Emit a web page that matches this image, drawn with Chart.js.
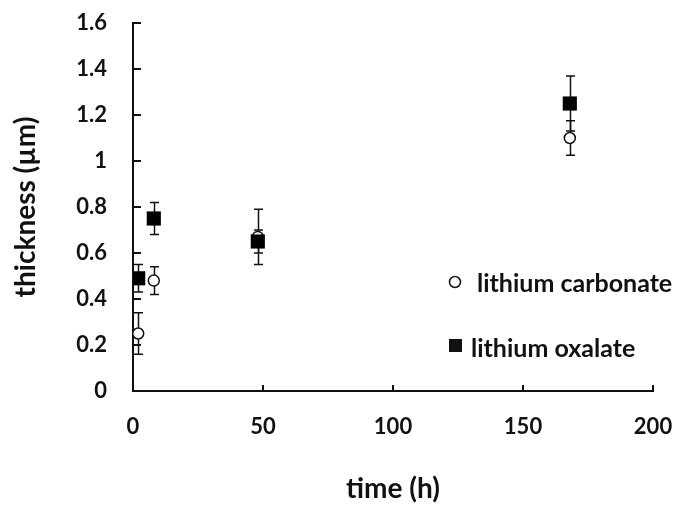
<!DOCTYPE html>
<html>
<head>
<meta charset="utf-8">
<script src="https://cdn.jsdelivr.net/npm/chart.js@4.4.1/dist/chart.umd.min.js"></script>
<style>
  html, body { margin: 0; padding: 0; background: #ffffff; }
  #wrap { width: 678px; height: 506px; }
</style>
</head>
<body>
<div id="wrap"><canvas id="c" width="678" height="506"></canvas></div>
<script>
// Sampling times (h) and measured layer thickness (µm) with error bar half-widths
const hours = [2, 8, 48, 168];
const carbonate = [0.25, 0.48, 0.67, 1.10];
const carbonateErr = [0.09, 0.06, 0.12, 0.075];
const oxalate = [0.49, 0.75, 0.65, 1.25];
const oxalateErr = [0.06, 0.07, 0.05, 0.12];

const seriesNames = ['lithium carbonate', 'lithium oxalate'];

// Axis ticks
const xTicks = [0, 50, 100, 150, 200];
const xTickLabels = ['0', '50', '100', '150', '200'];
const yTicks = [0, 0.2, 0.4, 0.6, 0.8, 1.0, 1.2, 1.4, 1.6];
const yTickLabels = ['0', '0.2', '0.4', '0.6', '0.8', '1', '1.2', '1.4', '1.6'];

const FONT = 'Lato, "Open Sans", sans-serif';
const INK = '#111111';

const toPoints = (xs, ys) => xs.map((x, i) => ({ x: x, y: ys[i] }));

// Vertical error bars with caps, drawn beneath the markers
const errorBars = {
  id: 'errorBars',
  beforeDatasetsDraw(chart) {
    const { ctx, scales: { x, y } } = chart;
    ctx.save();
    ctx.strokeStyle = INK;
    ctx.lineWidth = 1.5;
    chart.data.datasets.forEach(ds => {
      ds.data.forEach((pt, i) => {
        const e = ds.errors[i];
        const px = Math.round(x.getPixelForValue(pt.x)) + 0.5;
        const top = y.getPixelForValue(pt.y + e);
        const bot = y.getPixelForValue(pt.y - e);
        ctx.beginPath();
        ctx.moveTo(px, top); ctx.lineTo(px, bot);
        ctx.moveTo(px - 4.5, top); ctx.lineTo(px + 4.5, top);
        ctx.moveTo(px - 4.5, bot); ctx.lineTo(px + 4.5, bot);
        ctx.stroke();
      });
    });
    ctx.restore();
  }
};

// Tick marks pointing into the plot area
const innerTicks = {
  id: 'innerTicks',
  beforeDatasetsDraw(chart) {
    const { ctx, chartArea, scales: { x, y } } = chart;
    ctx.save();
    ctx.strokeStyle = INK;
    ctx.lineWidth = 2;
    ctx.beginPath();
    y.ticks.forEach(t => {
      const py = Math.round(y.getPixelForValue(t.value));
      ctx.moveTo(chartArea.left, py);
      ctx.lineTo(chartArea.left + 8, py);
    });
    x.ticks.forEach(t => {
      const px = Math.round(x.getPixelForValue(t.value));
      ctx.moveTo(px, chartArea.bottom);
      ctx.lineTo(px, chartArea.bottom - 6);
    });
    ctx.stroke();
    ctx.restore();
  }
};

// Legend placed inside the plot, lower right
const insetLegend = {
  id: 'insetLegend',
  afterDraw(chart) {
    const { ctx } = chart;
    const ds = chart.data.datasets;
    ctx.save();
    ctx.font = 'bold 25px ' + FONT;
    ctx.textBaseline = 'alphabetic';
    // open circle entry
    ctx.beginPath();
    ctx.arc(455, 282, 5.5, 0, Math.PI * 2);
    ctx.fillStyle = '#ffffff';
    ctx.fill();
    ctx.lineWidth = 1.5;
    ctx.strokeStyle = INK;
    ctx.stroke();
    ctx.fillStyle = INK;
    ctx.fillText(ds[1].label, 477, 292);
    // filled square entry
    ctx.fillRect(449, 339, 13, 13);
    ctx.fillText(ds[0].label, 471, 357);
    ctx.restore();
  }
};

new Chart(document.getElementById('c'), {
  type: 'scatter',
  data: {
    datasets: [
      {
        label: seriesNames[1],
        data: toPoints(hours, oxalate),
        errors: oxalateErr,
        pointStyle: 'rect',
        pointRadius: 10,
        pointHoverRadius: 10,
        backgroundColor: '#000000',
        borderColor: '#000000',
        borderWidth: 0,
        order: 0
      },
      {
        label: seriesNames[0],
        data: toPoints(hours, carbonate),
        errors: carbonateErr,
        pointStyle: 'circle',
        pointRadius: 5.5,
        pointHoverRadius: 5.5,
        backgroundColor: '#ffffff',
        borderColor: INK,
        borderWidth: 1.5,
        order: 1
      }
    ]
  },
  options: {
    responsive: false,
    animation: false,
    devicePixelRatio: 1,
    layout: { padding: { top: 23, right: 25, left: 0, bottom: 0 } },
    plugins: {
      legend: { display: false },
      tooltip: { enabled: false }
    },
    scales: {
      x: {
        type: 'linear',
        min: 0,
        max: 200,
        afterBuildTicks: s => { s.ticks = xTicks.map(v => ({ value: v })); },
        afterFit: s => { s.height = 115; },
        grid: { display: false, drawTicks: true, tickLength: 23 },
        border: { display: true, color: INK, width: 2 },
        ticks: {
          padding: 0,
          color: INK,
          font: { family: FONT, size: 22, weight: 'bold' },
          callback: (v, i) => xTickLabels[i]
        },
        title: {
          display: true,
          text: 'time (h)',
          color: INK,
          font: { family: FONT, size: 28, weight: 'bold' },
          padding: { top: 0, bottom: 0 }
        }
      },
      y: {
        type: 'linear',
        min: 0,
        max: 1.6,
        afterBuildTicks: s => { s.ticks = yTicks.map(v => ({ value: v })); },
        afterFit: s => { s.width = 133; },
        grid: { display: false, drawTicks: true, tickLength: 26 },
        border: { display: true, color: INK, width: 2 },
        ticks: {
          padding: 0,
          color: INK,
          font: { family: FONT, size: 22, weight: 'bold' },
          callback: (v, i) => yTickLabels[i]
        },
        title: {
          display: true,
          text: 'thickness (µm)',
          color: INK,
          font: { family: FONT, size: 28, weight: 'bold' },
          padding: { top: 9, bottom: 0 }
        }
      }
    }
  },
  plugins: [errorBars, innerTicks, insetLegend]
});
</script>
</body>
</html>
